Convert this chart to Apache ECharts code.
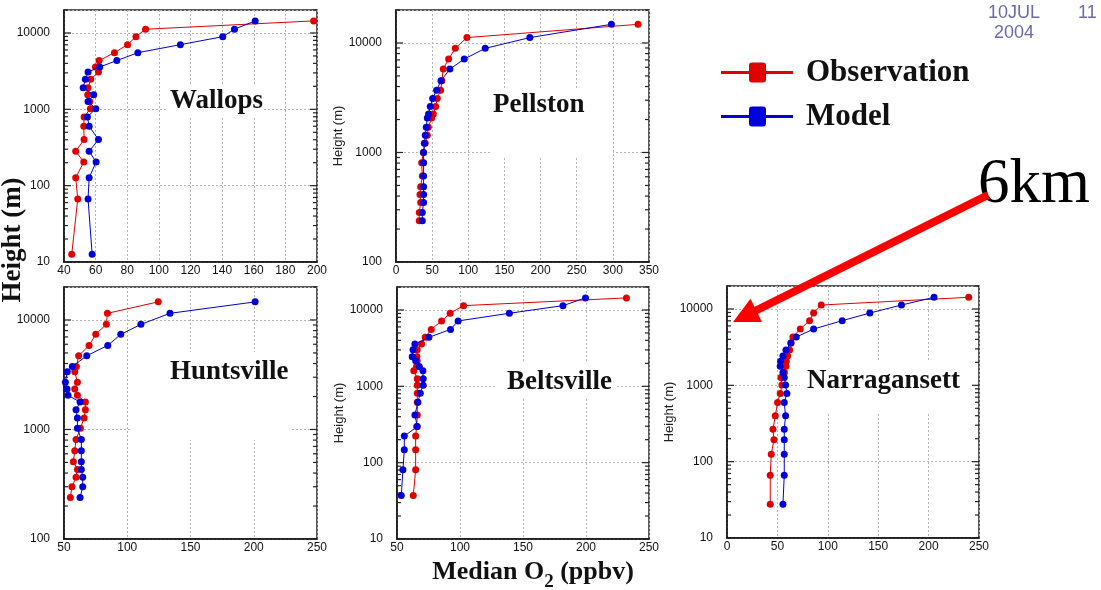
<!DOCTYPE html>
<html>
<head>
<meta charset="utf-8">
<script src="https://cdn.jsdelivr.net/npm/echarts@6/dist/echarts.min.js"></script>
<style>html,body{margin:0;padding:0;background:#fff;}#c{width:1101px;height:590px;}</style>
</head>
<body>
<div id="c"></div>
<script>
// ---------- data (ozone in ppbv, height in m) ----------
const seriesNames = ['Observation', 'Model'];
const stationNames = ['Wallops', 'Pellston', 'Huntsville', 'Beltsville', 'Narragansett'];

const wallopsH   = [14400, 11200, 8950, 7030, 5520, 4350, 3590, 3080, 2470, 1920, 1550, 1270, 1020, 794, 598, 401, 282, 204, 127, 67, 12.6];
const wallopsObs = [197.9, 91.6, 85.5, 80.2, 71.9, 62.2, 59.9, 61.8, 56.9, 55.2, 55.0, 56.3, 56.7, 52.7, 52.5, 52.7, 47.4, 52.5, 47.4, 48.7, 44.9];
const wallopsMod = [160.9, 147.8, 140.4, 113.6, 86.7, 73.4, 62.6, 55.2, 53.5, 52.1, 58.8, 55.2, 60.1, 54.8, 55.9, 61.8, 55.9, 60.3, 55.9, 55.2, 57.8];

const pellstonH   = [14800, 11200, 8930, 7130, 5780, 4520, 3710, 3110, 2630, 2250, 2060, 1700, 1435, 1213, 1000, 807, 609, 486, 414, 350, 283, 238];
const pellstonObs = [334.9, 98.1, 82.0, 72.8, 65.4, 63.5, 61.7, 57.1, 54.8, 51.6, 49.3, 44.7, 43.3, 40.5, 37.8, 35.5, 36.4, 34.1, 33.2, 34.1, 32.2, 32.2];
const pellstonMod = [298.0, 185.2, 123.4, 94.4, 74.6, 62.2, 56.2, 50.7, 47.4, 45.1, 43.3, 41.9, 40.5, 39.2, 38.2, 38.2, 38.2, 38.2, 38.2, 38.2, 36.4, 36.4];

const huntsvilleH   = [14630, 11500, 9120, 7390, 5860, 4710, 3760, 3360, 2700, 2340, 2050, 1780, 1515, 1270, 1028, 809, 641, 508, 432, 366, 300, 239];
const huntsvilleObs = [124.5, 84.3, 83.5, 75.1, 69.8, 61.6, 59.8, 58.5, 60.6, 58.5, 60.6, 66.9, 66.9, 65.9, 63.0, 59.5, 58.5, 57.4, 60.6, 59.5, 56.3, 55.0];
const huntsvilleMod = [201.1, 133.8, 110.8, 94.9, 84.6, 68.0, 56.6, 52.6, 51.1, 52.4, 53.2, 62.7, 59.5, 60.6, 60.6, 63.7, 63.7, 63.7, 63.7, 64.8, 64.8, 62.7];

const beltsvilleH   = [14390, 11400, 9060, 7180, 5570, 4380, 3580, 3010, 2440, 2160, 1820, 1597, 1253, 1035, 813, 618, 422, 297, 223, 148, 80.7, 37.1];
const beltsvilleObs = [232.1, 102.8, 92.2, 85.4, 77.2, 72.4, 69.5, 66.0, 65.8, 66.0, 65.5, 63.3, 66.1, 66.1, 66.1, 66.1, 66.1, 65.6, 64.8, 64.8, 64.8, 62.9];
const beltsvilleMod = [199.6, 181.7, 139.2, 98.5, 92.5, 75.3, 64.2, 62.7, 62.1, 64.8, 67.7, 70.6, 70.8, 70.8, 68.5, 66.6, 64.2, 66.1, 55.8, 55.8, 54.7, 53.4];

const narraH   = [14220, 11270, 8850, 7030, 5460, 4290, 3580, 2900, 2430, 2060, 1780, 1475, 1268, 1007, 782, 596, 398, 266, 193, 125, 66.4, 27.7];
const narraObs = [239.8, 93.5, 85.9, 81.9, 72.7, 65.4, 63.5, 62.1, 60.1, 58.8, 58.5, 57.0, 53.5, 54.5, 52.8, 50.2, 47.9, 45.6, 46.6, 43.9, 42.9, 42.9];
const narraMod = [205.4, 173.1, 141.7, 114.3, 85.9, 68.7, 63.4, 58.5, 55.5, 53.2, 52.8, 55.5, 56.8, 58.1, 59.4, 56.8, 58.1, 56.8, 56.8, 56.8, 56.8, 55.5];

// axis ranges
const xMins = [40, 0, 50, 50, 0];
const xMaxs = [200, 350, 250, 250, 250];
const xSteps = [20, 50, 50, 50, 50];
const yMins = [10, 100, 100, 10, 10];
const yMax = 20000;
const yNames = ['', 'Height (m)', '', 'Height (m)', 'Height (m)'];

// ---------- layout ----------
const gridBoxes = [
  {left: 64, top: 10, width: 253, height: 252},
  {left: 396, top: 10, width: 253, height: 252},
  {left: 64, top: 287, width: 253, height: 252},
  {left: 397, top: 287, width: 252, height: 252},
  {left: 727, top: 286, width: 252, height: 252}
];
const labelPos = [[170, 101], [493, 105], [170, 372], [507, 382], [807, 381]];
const maskRects = [[166, 86, 98, 30], [490, 88, 123, 70], [130, 352, 160, 88], [495, 362, 120, 36], [800, 360, 175, 52]];

const heights = [wallopsH, pellstonH, huntsvilleH, beltsvilleH, narraH];
const obsVals = [wallopsObs, pellstonObs, huntsvilleObs, beltsvilleObs, narraObs];
const modVals = [wallopsMod, pellstonMod, huntsvilleMod, beltsvilleMod, narraMod];

const RED = '#e00000', BLUE = '#0000d8';
const labelFont = 'Liberation Sans';

const grids = [], xAxes = [], yAxes = [], series = [];
gridBoxes.forEach((g, i) => {
  grids.push(Object.assign({show: true, borderColor: '#222', borderWidth: 1.5, backgroundColor: 'transparent'}, g));
  xAxes.push({
    type: 'value', gridIndex: i, min: xMins[i], max: xMaxs[i], interval: xSteps[i],
    axisLine: {show: true, onZero: false, lineStyle: {color: '#111', width: 1.5}},
    axisTick: {show: false},
    axisLabel: {fontSize: 12, color: '#111', fontFamily: labelFont, margin: 3},
    splitLine: {show: true, lineStyle: {color: '#b4b4b4', type: [2, 2], width: 1}}
  });
  yAxes.push({
    type: 'log', logBase: 10, gridIndex: i, min: yMins[i], max: yMax,
    name: yNames[i], nameLocation: 'middle', nameGap: 46,
    nameTextStyle: {fontSize: 13, fontFamily: labelFont, color: '#222'},
    axisLine: {show: true, lineStyle: {color: '#111', width: 1.5}},
    axisTick: {show: false},
    minorTick: {show: false},
    axisLabel: {fontSize: 12, color: '#111', fontFamily: labelFont, margin: 14, showMaxLabel: false,
      formatter: v => String(Math.round(v))},
    splitLine: {show: true, lineStyle: {color: '#b4b4b4', type: [2, 2], width: 1}}
  });
  // log tick marks (inside, left and right)
  const tickData = [];
  for (let k = 0; k < 6; k++) {
    for (let m = 1; m <= 9; m++) {
      const v = m * Math.pow(10, k);
      if (v >= yMins[i] && v <= yMax) tickData.push([xMins[i], v, m === 1 ? 1 : 0]);
    }
  }
  series.push({
    type: 'custom', xAxisIndex: i, yAxisIndex: i, silent: true, clip: false, z: 3,
    data: tickData,
    renderItem: (params, api) => {
      const p = api.coord([api.value(0), api.value(1)]);
      const cs = params.coordSys;
      const len = api.value(2) ? 7 : 4;
      const st = {stroke: '#222', lineWidth: 1.2};
      return {type: 'group', children: [
        {type: 'line', shape: {x1: cs.x, y1: p[1], x2: cs.x + len, y2: p[1]}, style: st},
        {type: 'line', shape: {x1: cs.x + cs.width, y1: p[1], x2: cs.x + cs.width - len, y2: p[1]}, style: st}
      ]};
    }
  });
  series.push({
    name: seriesNames[0], type: 'line', xAxisIndex: i, yAxisIndex: i,
    data: heights[i].map((h, j) => [obsVals[i][j], h]),
    symbol: 'circle', symbolSize: 7, color: RED,
    lineStyle: {width: 1, color: RED}, itemStyle: {color: RED}, z: 4
  });
  series.push({
    name: seriesNames[1], type: 'line', xAxisIndex: i, yAxisIndex: i,
    data: heights[i].map((h, j) => [modVals[i][j], h]),
    symbol: 'circle', symbolSize: 7, color: BLUE,
    lineStyle: {width: 1, color: BLUE}, itemStyle: {color: BLUE}, z: 5
  });
});

const iconPath = 'path://M0,8.5L72,8.5L72,11.5L0,11.5Z M28,3Q28,0 31,0L42,0Q45,0 45,3L45,17Q45,20 42,20L31,20Q28,20 28,17Z';

const graphics = [];
maskRects.forEach(r => graphics.push({type: 'rect', z: 1, shape: {x: r[0], y: r[1], width: r[2], height: r[3]}, style: {fill: '#ffffff'}}));
stationNames.forEach((n, i) => graphics.push({
  type: 'text', z: 6, x: labelPos[i][0], y: labelPos[i][1],
  style: {text: n, fontSize: 27, fontWeight: 'bold', fontFamily: 'Liberation Serif', fill: '#111', align: 'left', verticalAlign: 'middle'}
}));
graphics.push({
  type: 'text', z: 6, x: 13, y: 240, rotation: Math.PI / 2,
  style: {text: 'Height (m)', fontSize: 27, fontWeight: 'bold', fontFamily: 'Liberation Serif', fill: '#111', align: 'center', verticalAlign: 'middle'}
});
graphics.push({
  type: 'text', z: 6, x: 533, y: 572,
  style: {
    text: '{a|Median O}{s|2}{a| (ppbv)}', align: 'center', verticalAlign: 'middle',
    rich: {
      a: {fontSize: 26, fontWeight: 'bold', fontFamily: 'Liberation Serif', fill: '#111', lineHeight: 40},
      s: {fontSize: 19, fontWeight: 'bold', fontFamily: 'Liberation Serif', fill: '#111', lineHeight: 15, verticalAlign: 'bottom'}
    }
  }
});
graphics.push({
  type: 'text', z: 6, x: 1014, y: 23,
  style: {text: '10JUL\n2004', fontSize: 18, fontFamily: 'Liberation Sans', fill: '#6b6ba8', lineHeight: 20, align: 'center', verticalAlign: 'middle'}
});
graphics.push({
  type: 'text', z: 6, x: 1078, y: 13,
  style: {text: '11', fontSize: 18, fontFamily: 'Liberation Sans', fill: '#6b6ba8', align: 'left', verticalAlign: 'middle'}
});
graphics.push({
  type: 'text', z: 6, x: 978, y: 185,
  style: {text: '6km', fontSize: 63, fontFamily: 'Liberation Serif', fill: '#000', align: 'left', verticalAlign: 'middle'}
});
graphics.push({type: 'line', z: 20, shape: {x1: 988, y1: 195, x2: 752, y2: 312.5}, style: {stroke: '#ff0000', lineWidth: 8}});
graphics.push({type: 'polygon', z: 20, shape: {points: [[733, 322], [762, 322], [750.5, 298.8]]}, style: {fill: '#ff0000'}});

const chart = echarts.init(document.getElementById('c'), null, {renderer: 'canvas'});
chart.setOption({
  animation: false,
  backgroundColor: '#ffffff',
  grid: grids, xAxis: xAxes, yAxis: yAxes, series: series,
  legend: {
    left: 716, top: 52, orient: 'vertical', itemWidth: 72, itemHeight: 20, itemGap: 13,
    selectedMode: false,
    data: [{name: seriesNames[0], icon: iconPath}, {name: seriesNames[1], icon: iconPath}],
    textStyle: {fontFamily: 'Liberation Serif', fontWeight: 'bold', fontSize: 31, color: '#111', lineHeight: 31, padding: [0, 0, 0, 8]}
  },
  graphic: {elements: graphics}
});
</script>
</body>
</html>
